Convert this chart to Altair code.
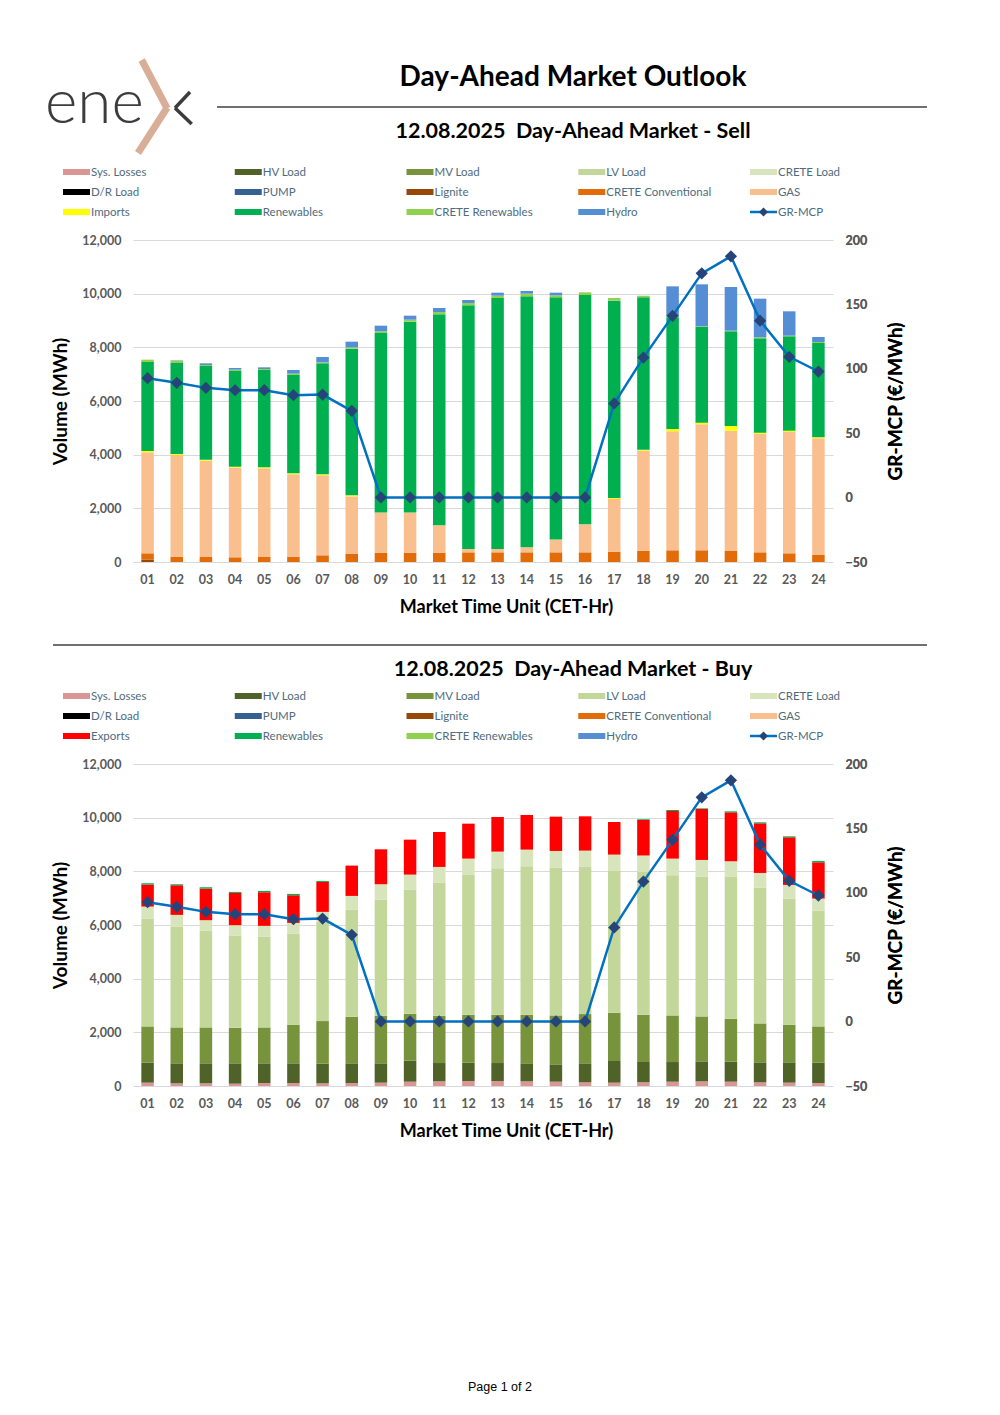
import altair as alt
import pandas as pd

# ---------------- data ----------------
hours = ["01", "02", "03", "04", "05", "06", "07", "08", "09", "10", "11", "12",
         "13", "14", "15", "16", "17", "18", "19", "20", "21", "22", "23", "24"]

gr_mcp = [92.7, 89.1, 85.2, 83.4, 83.4, 79.5, 80.0, 67.4, 0.1, 0.1, 0.1, 0.1,
          0.1, 0.1, 0.1, 0.1, 73.1, 108.7, 141.1, 174.1, 187.3, 137.4, 109.3, 97.9]

# Sell side (MWh)
sell_lignite = [85, 0, 0, 0, 0, 0, 0, 0, 0, 0, 0, 0, 0, 0, 0, 0, 0, 0, 0, 0, 0, 0, 0, 0]
sell_crete_conv = [238, 199, 186, 174, 186, 199, 248, 311, 348, 348, 348, 360,
                   360, 360, 360, 360, 385, 422, 435, 435, 410, 360, 323, 261]
sell_gas = [3764, 3789, 3590, 3342, 3305, 3068, 2982, 2136, 1491, 1491, 1018, 124,
            124, 187, 472, 1044, 1963, 3727, 4435, 4695, 4484, 4410, 4522, 4348]
sell_imports = [50, 37, 38, 37, 37, 37, 37, 37, 10, 5, 5, 5,
                5, 5, 5, 5, 37, 37, 87, 63, 174, 50, 49, 37]
sell_renewables = [3316, 3391, 3490, 3565, 3627, 3665, 4137, 5466, 6685, 7113, 7859, 9076,
                   9350, 9349, 9026, 8541, 7354, 5677, 4161, 3565, 3528, 3515, 3516, 3515]
sell_crete_ren = [87, 87, 37, 50, 38, 50, 37, 50, 62, 74, 87, 87,
                  86, 99, 75, 100, 100, 62, 25, 25, 25, 38, 25, 38]
sell_hydro = [0, 15, 63, 62, 62, 136, 199, 211, 211, 149, 149, 112,
              112, 99, 99, 0, 0, 0, 1130, 1565, 1627, 1441, 907, 186]

# Buy side (MWh)
buy_sys_losses = [124, 99, 99, 87, 112, 112, 99, 112, 124, 161, 174, 186,
                  186, 174, 161, 136, 124, 136, 161, 174, 161, 136, 124, 112]
buy_hv = [745, 745, 745, 757, 732, 732, 732, 732, 720, 782, 682, 683,
          670, 670, 645, 708, 807, 757, 732, 744, 745, 745, 757, 757]
buy_mv = [1352, 1340, 1340, 1327, 1340, 1439, 1588, 1737, 1774, 1749, 1762, 1786,
          1799, 1811, 1824, 1836, 1799, 1762, 1737, 1675, 1600, 1452, 1402, 1352]
buy_lv = [4020, 3759, 3598, 3425, 3387, 3399, 3711, 3982, 4330, 4616, 4950, 5211,
          5459, 5534, 5509, 5484, 5285, 5323, 5224, 5211, 5286, 5062, 4702, 4317]
buy_crete_load = [446, 434, 397, 397, 397, 397, 359, 521, 571, 570, 596, 608,
                  620, 620, 620, 608, 608, 608, 620, 620, 583, 545, 509, 447]
buy_exports = [819, 1104, 1178, 1203, 1253, 1030, 1116, 1129, 1302, 1303, 1303, 1303,
               1291, 1290, 1278, 1278, 1216, 1327, 1774, 1899, 1824, 1849, 1774, 1352]
buy_renewables = [50, 37, 50, 37, 49, 50, 37, 0, 0, 0, 0, 0,
                  0, 0, 0, 0, 0, 25, 37, 24, 37, 37, 37, 50]

legend_names_sell = ["Sys. Losses", "HV Load", "MV Load", "LV Load", "CRETE Load",
                     "D/R Load", "PUMP", "Lignite", "CRETE Conventional", "GAS",
                     "Imports", "Renewables", "CRETE Renewables", "Hydro", "GR-MCP"]
legend_names_buy = ["Sys. Losses", "HV Load", "MV Load", "LV Load", "CRETE Load",
                    "D/R Load", "PUMP", "Lignite", "CRETE Conventional", "GAS",
                    "Exports", "Renewables", "CRETE Renewables", "Hydro", "GR-MCP"]

COLORS = {
    "Sys. Losses": "#DA9694", "HV Load": "#4F6228", "MV Load": "#77933C",
    "LV Load": "#C4D79B", "CRETE Load": "#D8E4BC", "D/R Load": "#000000",
    "PUMP": "#366092", "Lignite": "#974706", "CRETE Conventional": "#E26B0A",
    "GAS": "#FABF8F", "Imports": "#FFFF00", "Exports": "#FF0000",
    "Renewables": "#00B050", "CRETE Renewables": "#92D050", "Hydro": "#558ED5",
}
LINE_COLOR = "#0070C0"
MARKER_COLOR = "#264478"

sell_stack = [("Lignite", sell_lignite), ("CRETE Conventional", sell_crete_conv),
              ("GAS", sell_gas), ("Imports", sell_imports),
              ("Renewables", sell_renewables), ("CRETE Renewables", sell_crete_ren),
              ("Hydro", sell_hydro)]
buy_stack = [("Sys. Losses", buy_sys_losses), ("HV Load", buy_hv), ("MV Load", buy_mv),
             ("LV Load", buy_lv), ("CRETE Load", buy_crete_load),
             ("Exports", buy_exports), ("Renewables", buy_renewables)]


def long_df(stack):
    rows = []
    for k, (name, vals) in enumerate(stack):
        for h, v in zip(hours, vals):
            rows.append({"hour": h, "series": name, "value": v,
                         "color": COLORS[name], "k": k})
    return pd.DataFrame(rows)


mcp_df = pd.DataFrame({"hour": hours, "mcp": gr_mcp})
DUMMY = pd.DataFrame({"d": [0]})

FONT = "Lato"
W, H = 700, 322
NB = "\u00a0"


def txt(s, x, y, size, weight="normal", color="#000000", align="center", font=FONT,
        baseline="middle"):
    return alt.Chart(DUMMY).mark_text(
        text=s, font=font, fontSize=size, fontWeight=weight, color=color,
        align=align, baseline=baseline
    ).encode(x=alt.value(x), y=alt.value(y))


def seg(x1, y1, x2, y2, color, w, opacity=1.0):
    return alt.Chart(DUMMY).mark_rule(
        color=color, strokeWidth=w, strokeCap="butt", opacity=opacity
    ).encode(x=alt.value(x1), y=alt.value(y1), x2=alt.value(x2), y2=alt.value(y2))


def legend_layers(names):
    out = []
    x0, dx, y0, dy = -70, 171.75, -68, 20
    for i, name in enumerate(names):
        cx = x0 + (i % 5) * dx
        cy = y0 + (i // 5) * dy
        if name == "GR-MCP":
            out.append(seg(cx, cy, cx + 27, cy, LINE_COLOR, 2.5))
            out.append(alt.Chart(DUMMY).mark_point(
                shape="diamond", filled=True, size=80, color=MARKER_COLOR, opacity=1
            ).encode(x=alt.value(cx + 13.5), y=alt.value(cy)))
        else:
            out.append(alt.Chart(DUMMY).mark_rect(color=COLORS[name]).encode(
                x=alt.value(cx), x2=alt.value(cx + 27),
                y=alt.value(cy - 3), y2=alt.value(cy + 3)))
        out.append(txt(name, cx + 28, cy + 0.5, 11.5, color="#4F6B7D", align="left"))
    return out


def market_panel(stack):
    df = long_df(stack)
    bars = alt.Chart(df).mark_bar(size=12.5).encode(
        x=alt.X("hour:N", sort=hours, title="Market Time Unit (CET-Hr)",
                scale=alt.Scale(paddingInner=0.57, paddingOuter=0.285),
                axis=alt.Axis(labelAngle=0, ticks=False, tickSize=0, domain=False,
                              labelPadding=17, labelBaseline="middle",
                              labelFontWeight="bold", labelFontSize=12.5,
                              labelColor="#595959", labelFont=FONT,
                              titleFont=FONT, titleFontSize=18, titleFontWeight="bold",
                              titleColor="#000000", titleX=373, titleY=45,
                              titleBaseline="middle")),
        y=alt.Y("value:Q", stack="zero",
                scale=alt.Scale(domain=[0, 12000], nice=False),
                axis=alt.Axis(values=[0, 2000, 4000, 6000, 8000, 10000, 12000],
                              format=",.0f", title="Volume (MWh)", ticks=False,
                              tickSize=0, domain=False, grid=True, gridColor="#D9D9D9",
                              labelPadding=12, labelFontWeight="bold",
                              labelFontSize=12.5, labelColor="#595959", labelFont=FONT,
                              titleFont=FONT, titleFontSize=19, titleFontWeight="bold",
                              titleColor="#000000", titleAngle=270, titleX=-73,
                              titleY=161, titleAlign="center", titleBaseline="middle")),
        color=alt.Color("color:N", scale=None),
        order=alt.Order("k:Q", sort="ascending"),
    )
    yr = alt.Y("mcp:Q", scale=alt.Scale(domain=[-50, 200], nice=False),
               axis=alt.Axis(orient="right", values=[-50, 0, 50, 100, 150, 200],
                             title="GR-MCP (€/MWh)", ticks=False, tickSize=0,
                             domain=False, grid=False, labelPadding=12,
                             labelFontWeight="bold", labelFontSize=12.5,
                             labelColor="#595959", labelFont=FONT,
                             titleFont=FONT, titleFontSize=19, titleFontWeight="bold",
                             titleColor="#000000", titleAngle=270, titleX=62,
                             titleY=161, titleAlign="center", titleBaseline="middle"))
    line = alt.Chart(mcp_df).mark_line(color=LINE_COLOR, strokeWidth=2.5).encode(
        x=alt.X("hour:N", sort=hours), y=yr)
    pts = alt.Chart(mcp_df).mark_point(shape="diamond", filled=True, size=150,
                                       color=MARKER_COLOR, opacity=1).encode(
        x=alt.X("hour:N", sort=hours), y=yr)
    return bars, line, pts


# ---------------- sell panel ----------------
s_bars, s_line, s_pts = market_panel(sell_stack)
sell_decor = [
    seg(-125, -232, -125, -231, "#ffffff", 1, opacity=0),   # layout anchor top-left
    seg(0, 390, 1, 390, "#ffffff", 1, opacity=0),           # layout anchor bottom
    # logo
    txt("ene", -88, -117, 62, weight=300, color="#3C3C3C", align="left",
        baseline="alphabetic"),
    seg(8.7, -180, 34.2, -131.5, "#D9AE98", 7),
    seg(34.2, -132.5, 5, -87, "#D9AE98", 7),
    seg(57, -148, 42, -132, "#3C3C3C", 3.5),
    seg(42, -132, 58.7, -116, "#3C3C3C", 3.5),
    # titles
    txt("Day-Ahead Market Outlook", 440, -162.5, 28, weight="bold"),
    seg(84, -133, 794, -133, "#404040", 1.5),
    txt("12.08.2025" + NB + NB + "Day-Ahead Market - Sell", 440, -108.5, 21.5, weight="bold"),
] + legend_layers(legend_names_sell)

sell_chart = alt.layer(s_bars, s_line, s_pts, *sell_decor).resolve_scale(
    y="independent").properties(width=W, height=H)

# ---------------- buy panel ----------------
b_bars, b_line, b_pts = market_panel(buy_stack)
buy_decor = [
    seg(0, -126, 1, -126, "#ffffff", 1, opacity=0),         # layout anchor top
    seg(-80, -119, 794, -119, "#404040", 1.5),
    txt("12.08.2025" + NB + NB + "Day-Ahead Market - Buy", 440, -94.5, 21.5, weight="bold"),
    txt("Page 1 of 2", 367, 623, 12.5, color="#000000", font="Liberation Sans"),
] + legend_layers(legend_names_buy)

buy_chart = alt.layer(b_bars, b_line, b_pts, *buy_decor).resolve_scale(
    y="independent").properties(width=W, height=H)

chart = alt.vconcat(sell_chart, buy_chart, spacing=8).properties(
    padding=0, background="#ffffff"
).configure_view(stroke=None)

chart.save("out.html", embed_options={"renderer": "svg", "actions": False})
